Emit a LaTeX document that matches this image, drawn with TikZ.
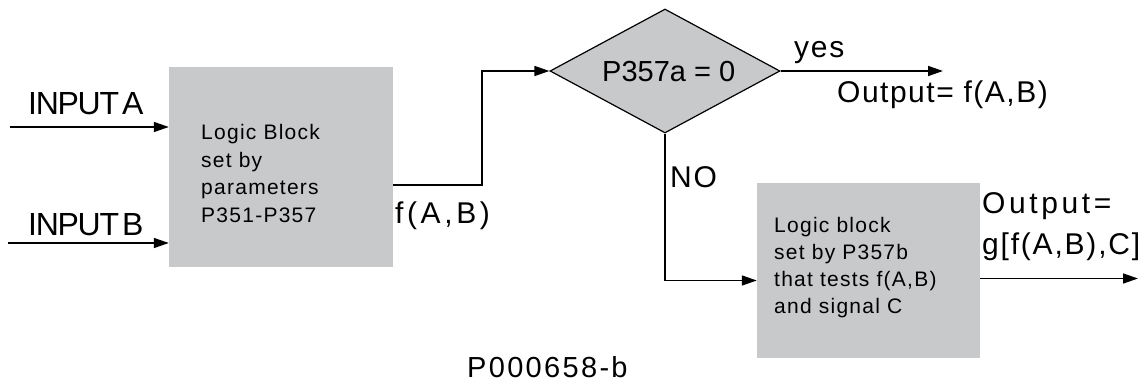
\documentclass[tikz,border=0pt]{standalone}
\usepackage{fontspec}
\setmainfont{Liberation Sans}
\newfontfamily\trk[LetterSpace=6]{Liberation Sans}
\newfontfamily\trkfive[LetterSpace=5]{Liberation Sans}
\newfontfamily\wtrk[LetterSpace=8]{Liberation Sans}
\newfontfamily\xtrk[LetterSpace=12]{Liberation Sans}
\newfontfamily\ntrk[LetterSpace=-4]{Liberation Sans}
\usetikzlibrary{arrows.meta,shapes.geometric}
\definecolor{boxgray}{RGB}{200,201,203}
\newcommand{\tightsp}{\spaceskip=3pt\relax}
\begin{document}
\begin{tikzpicture}[x=1pt,y=-1pt,
  arr/.style={draw, line width=1.5pt, -{Triangle[length=15pt,width=10pt]}},
  block/.style={fill=boxgray, draw=none, inner sep=0pt},
  lbl/.style={inner sep=0pt, anchor=base west},
  big/.style={font=\fontsize{30}{36}\selectfont\trk},
  small/.style={font=\fontsize{21}{27.5}\selectfont\trk}
]
\useasboundingbox (0,0) rectangle (1141,385);
\fill[white] (0,0) rectangle (1141,385);

% blocks
\node[block, minimum width=224pt, minimum height=200pt] (box1) at (281,167) {};
\node[block, minimum width=223pt, minimum height=175pt] (box2) at (868.5,270.5) {};
\node[diamond, fill=boxgray, draw=black, line width=1.2pt, inner sep=0pt,
      minimum width=230pt, minimum height=124pt] (dia) at (665,71) {};

% texts in blocks
\node[lbl, small] (t1) at (201,140) {\begin{tabular}[t]{@{}l@{}}Logic Block\\ set by\\ parameters\\ P351-P357\end{tabular}};
\node[lbl, font=\fontsize{21}{27}\selectfont\trk] (t2) at (774,233) {\begin{tabular}[t]{@{}l@{}}Logic block\\ set by P357b\\ that tests f(A,B)\\ and signal C\end{tabular}};
\node[lbl, font=\fontsize{29}{34}\selectfont] (td) at (602,82) {P357a = 0};

% labels
\node[lbl, font=\fontsize{32}{36}\selectfont\ntrk] (ina) at (28,115) {\tightsp INPUT A};
\node[lbl, font=\fontsize{32}{36}\selectfont\ntrk] (inb) at (28,235) {\tightsp INPUT B};
\node[lbl, font=\fontsize{30}{36}\selectfont\xtrk] (fab) at (395,223) {f(A,B)};
\node[lbl, big] (yes) at (794,58) {yes};
\node[lbl, font=\fontsize{30}{36}\selectfont\trkfive] (out1) at (837,103) {Output= f(A,B)};
\node[lbl, big] (no) at (670,187) {NO};
\node[lbl, font=\fontsize{30}{36}\selectfont\xtrk] (out2a) at (982,213) {Output=};
\node[lbl, big] (out2b) at (982,254) {g[f(A,B),C]};
\node[lbl, font=\fontsize{29}{34}\selectfont\wtrk] (fig) at (467,377) {P000658-b};

% connectors
\coordinate (ia) at (10,127);
\coordinate (ib) at (8,243);
\coordinate (yesend) at (943,71);
\coordinate (outend) at (1138,278.5);
\draw[arr] (ia) -- (ia -| box1.west);
\draw[arr] (ib) -- (ib -| box1.west);
\draw[arr] ([yshift=-18pt]box1.east) -- ++(89,0) |- (dia.west);
\draw[arr] (dia.east) -- (yesend);
\draw[arr] (dia.south) |- ([yshift=-10pt]box2.west);
\draw[arr] ([yshift=-8pt]box2.east) -- (outend);
\end{tikzpicture}
\end{document}
